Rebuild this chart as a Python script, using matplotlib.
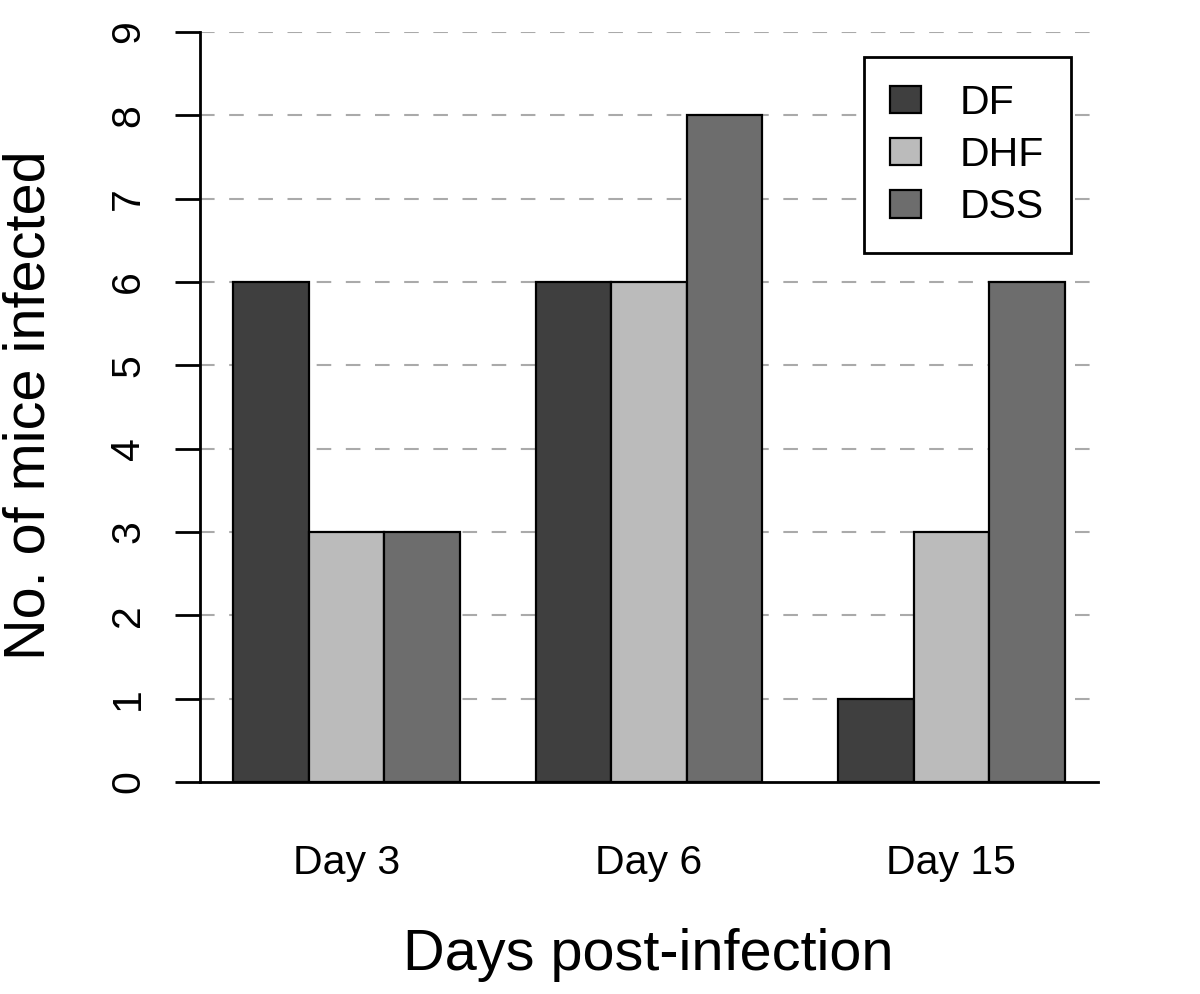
import matplotlib.pyplot as plt
import numpy as np

plt.rcParams['font.family'] = ['Liberation Sans', 'DejaVu Sans']

# данные
days = ['Day 3', 'Day 6', 'Day 15']
series = ['DF', 'DHF', 'DSS']
df_vals = [6, 6, 1]
dhf_vals = [3, 6, 3]
dss_vals = [3, 8, 6]
colors = ['#3f3f3f', '#bbbbbb', '#6d6d6d']

fig = plt.figure(figsize=(12, 9.94), dpi=100)
ax = fig.add_axes([200/1200, 1 - 782/994, 898/1200, 750/994])

# R-style barplot: ширина 1, промежуток 1 перед группой
group_start = 1 + 4 * np.arange(len(days))
for i, (name, vals) in enumerate(zip(series, [df_vals, dhf_vals, dss_vals])):
    ax.bar(group_start + i + 0.5, vals, width=1.0, color=colors[i],
           edgecolor='black', linewidth=1.6, label=name, zorder=3)

for y in range(1, 10):
    ax.axhline(y, color='#aaaaaa', linewidth=1.5, dashes=(7, 7), zorder=1)

ax.set_xlim(0.56, 12.44)
ax.set_ylim(0, 9)
ax.set_yticks(range(10))
ax.set_xticks(group_start + 1.5)
ax.set_xticklabels(days)
ax.tick_params(axis='x', length=0, pad=45, labelsize=29.5)
ax.tick_params(axis='y', length=18, width=2, pad=20, labelsize=29.5, labelrotation=90)
for lbl in ax.get_yticklabels():
    lbl.set_va('center')
for s in ['top', 'right']:
    ax.spines[s].set_visible(False)
for s in ['left', 'bottom']:
    ax.spines[s].set_linewidth(2)

fig.text(648/1200, 1 - 955/994, 'Days post-infection', fontsize=41.5,
         ha='center', va='center')
fig.text(30/1200, 1 - 405/994, 'No. of mice infected', fontsize=41.5,
         ha='center', va='center', rotation=90)

leg = ax.legend(loc='upper right', bbox_to_anchor=(1071/1200, 1 - 57/994),
                bbox_transform=fig.transFigure, fontsize=29.5, frameon=True,
                fancybox=False, framealpha=1, edgecolor='black',
                handlelength=0.75, handleheight=0.65, handletextpad=0.95,
                labelspacing=0.35, borderpad=0.65, borderaxespad=0)
leg.get_frame().set_linewidth(2)

fig.savefig('out.png', dpi=100)
